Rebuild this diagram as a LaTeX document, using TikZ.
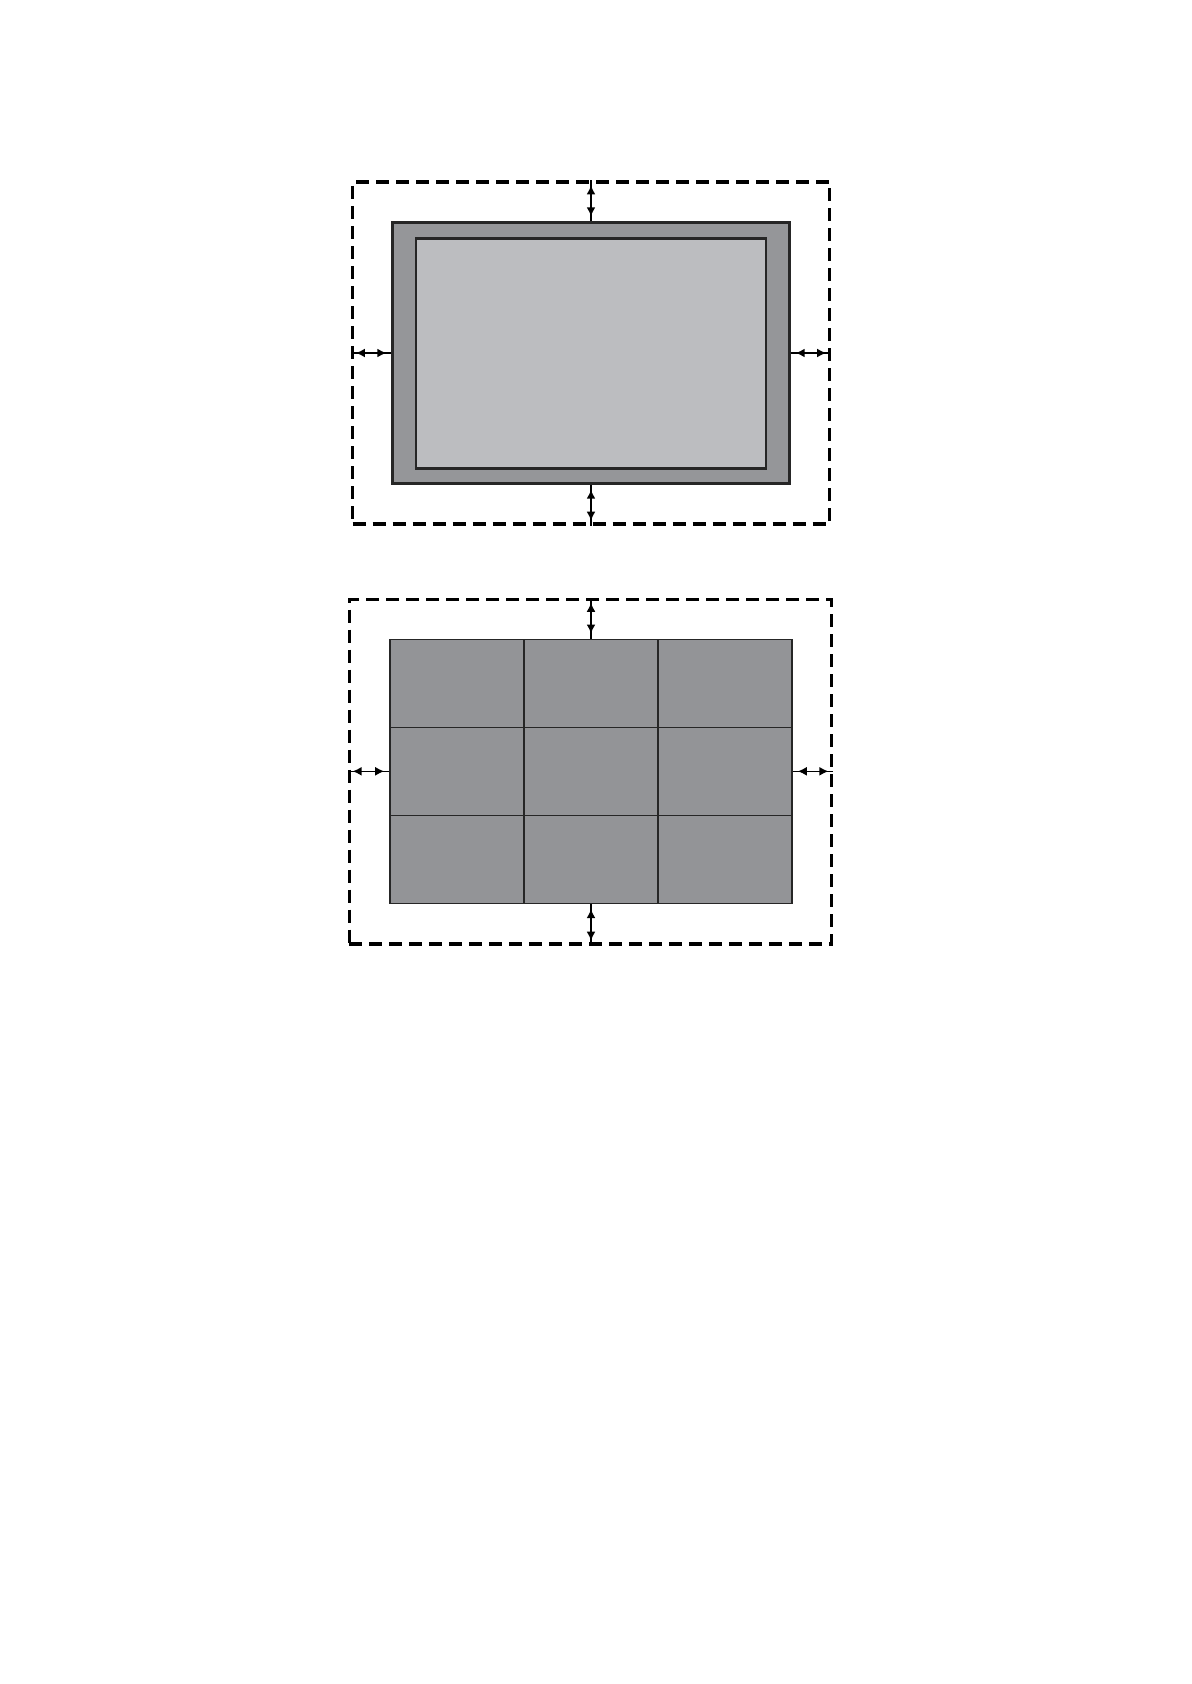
\documentclass[tikz,border=0pt]{standalone}
\usetikzlibrary{arrows.meta}
\definecolor{framegray}{RGB}{149,150,153}
\definecolor{screengray}{RGB}{188,189,192}
\definecolor{tilegray}{RGB}{147,148,151}
\definecolor{edgegray}{RGB}{38,38,38}
\begin{document}
\begin{tikzpicture}[x=0.5pt,y=-0.5pt,
  clearance/.style={draw=black,line width=1.6pt,dash pattern=on 6.5pt off 3.5pt,inner sep=0pt},
  bezel/.style={draw=edgegray,fill=framegray,line width=1.2pt,inner sep=0pt},
  screen/.style={draw=edgegray,fill=screengray,line width=1.4pt,inner sep=0pt},
  tile/.style={draw=edgegray,fill=tilegray,line width=0.8pt,inner sep=0pt,minimum width=67pt,minimum height=44pt},
  gap/.style={draw=black,line width=0.8pt,postaction={draw,{Latex[length=4.5pt,width=4.5pt]}-{Latex[length=4.5pt,width=4.5pt]},shorten <=2.5pt,shorten >=2.5pt}}]
\useasboundingbox (0,0) rectangle (1191,1684);
\node[clearance,minimum width=238.5pt,minimum height=171pt] (zone1) at (591,353) {};
\node[bezel,minimum width=198.5pt,minimum height=130.5pt] (bezel) at (591,353) {};
\node[screen,minimum width=175pt,minimum height=115pt] (screen) at (591,353.5) {};
\draw[gap] (bezel.north) -- (bezel.north |- zone1.north);
\draw[gap] (bezel.south) -- (bezel.south |- zone1.south);
\draw[gap] (bezel.west) -- (bezel.west -| zone1.west);
\draw[gap] (bezel.east) -- (bezel.east -| zone1.east);

\node[clearance,minimum width=241.3pt,minimum height=172.3pt] (zone2) at (590.5,771.7) {};
\foreach \r in {1,2,3}
  \foreach \c in {1,2,3}
    \node[tile] (tile\r\c) at ({591+(\c-2)*134},{771.3+(\r-2)*88}) {};
\draw[gap] (tile12.north) -- (tile12.north |- zone2.north);
\draw[gap] (tile32.south) -- (tile32.south |- zone2.south);
\draw[gap] (tile21.west) -- (tile21.west -| zone2.west);
\draw[gap] (tile23.east) -- (tile23.east -| zone2.east);
\end{tikzpicture}
\end{document}
